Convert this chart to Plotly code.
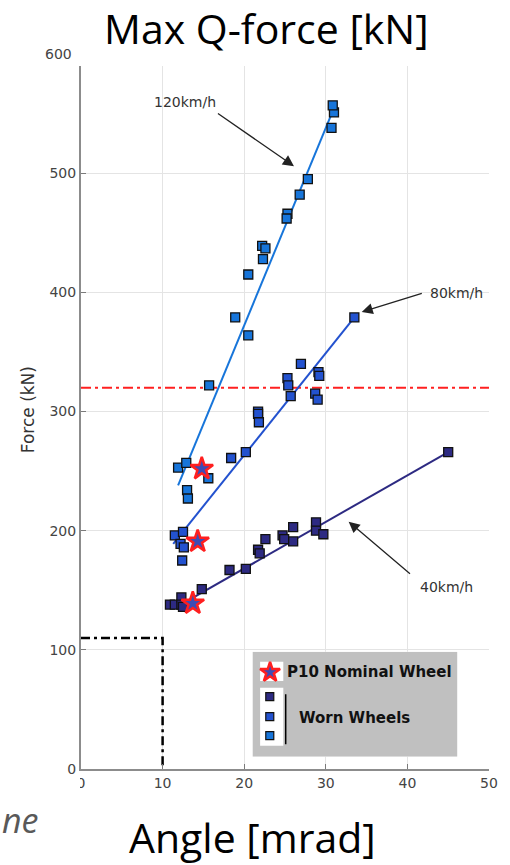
import plotly.graph_objects as go

# ---- measured values: angle [mrad] vs. max Q-force [kN] ----
angle_40 = [10.9, 11.5, 12.3, 12.3, 12.5, 14.8, 18.2, 20.2, 21.7, 21.9,
            22.6, 24.7, 24.9, 26.0, 26.0, 28.8, 28.8, 29.7, 45.0]
force_40 = [138, 138, 144, 138, 136, 151, 167, 168, 184, 181,
            193, 196, 193, 203, 191, 207, 200, 197, 266]

angle_80 = [11.5, 12.5, 12.2, 12.6, 12.4, 18.4, 20.2, 21.7, 21.7, 21.8,
            25.3, 25.4, 25.7, 26.95, 29.1, 29.2, 28.7, 29.0, 33.5]
force_80 = [196, 199, 189, 186, 175, 261, 266, 300, 298, 291,
            328, 322, 313, 340, 333, 330, 315, 310, 379]

angle_120 = [11.9, 12.9, 13.0, 13.1, 15.6, 15.7, 18.9, 20.5, 20.5, 22.2,
             22.6, 22.3, 25.3, 25.2, 26.8, 27.8, 30.7, 31.0, 30.85]
force_120 = [253, 257, 234, 227, 244, 322, 379, 364, 415, 439,
             437, 428, 466, 462, 482, 495, 538, 551, 557]

# nominal P10 wheel, one point per speed (40, 80, 120 km/h)
nominal_angle = [13.7, 14.3, 14.8]
nominal_force = [139, 191, 252]

# linear trend lines (start/end points)
fit_40_angle, fit_40_force = [12.5, 45.0], [139, 266]
fit_80_angle, fit_80_force = [11.3, 33.5], [189, 379]
fit_120_angle, fit_120_force = [11.9, 30.9], [238, 553]

force_limit = 320            # red dash-dot limit
box_angle = [0, 10, 10]      # black dash-dot boundary
box_force = [110, 110, 0]

x_ticks = [0, 10, 20, 30, 40, 50]
y_ticks = [0, 100, 200, 300, 400, 500]

# ---- styling ----
C40, C80, C120 = "#2d2a82", "#2352cf", "#1775da"
STAR_FILL, STAR_EDGE = "#3d4cb5", "#ff1f1f"
TICK_FONT = dict(family="DejaVu Sans", size=14, color="#444444")
NOTE_FONT = dict(family="DejaVu Sans", size=14, color="#333333")

# plot area in pixels
L, R, T, B = 81, 491, 66, 769
W, H = 510, 865
Y_TOP = 590


def px_x(p):
    return (p - L) / (R - L)


def px_y(p):
    return (B - p) / (B - T)


fig = go.Figure()

# boundary and limit lines
fig.add_trace(go.Scatter(x=box_angle, y=box_force, mode="lines",
                         line=dict(color="black", width=2.5, dash="9px,4px,3px,4px"),
                         hoverinfo="skip"))
fig.add_trace(go.Scatter(x=[0, 50], y=[force_limit, force_limit], mode="lines",
                         line=dict(color="#ff2020", width=2, dash="10px,4px,3px,4px"),
                         hoverinfo="skip"))

# trend lines
for xs, ys, c in [(fit_40_angle, fit_40_force, C40),
                  (fit_80_angle, fit_80_force, C80),
                  (fit_120_angle, fit_120_force, C120)]:
    fig.add_trace(go.Scatter(x=xs, y=ys, mode="lines", line=dict(color=c, width=2)))

# worn wheel measurements
for xs, ys, c in [(angle_40, force_40, C40),
                  (angle_80, force_80, C80),
                  (angle_120, force_120, C120)]:
    fig.add_trace(go.Scatter(x=xs, y=ys, mode="markers",
                             marker=dict(symbol="square", size=9, color=c,
                                         line=dict(color="#111111", width=1.3))))

# nominal wheel
fig.add_trace(go.Scatter(x=nominal_angle, y=nominal_force, mode="markers",
                         marker=dict(symbol="star", size=17, color=STAR_FILL,
                                     line=dict(color=STAR_EDGE, width=2.5))))

# ---- legend box drawn on its own small axis (pixel units inside the box) ----
LEG_X0, LEG_X1, LEG_Y0, LEG_Y1 = 253.3, 459.3, 651.7, 756.7
leg_w, leg_h = LEG_X1 - LEG_X0, LEG_Y1 - LEG_Y0

fig.add_trace(go.Scatter(x=[17.7], y=[20.6], mode="markers", xaxis="x2", yaxis="y2",
                         marker=dict(symbol="star", size=15, color=STAR_FILL,
                                     line=dict(color=STAR_EDGE, width=2.5))))
fig.add_trace(go.Scatter(x=[17.4, 17.4, 17.4], y=[45, 65, 84], mode="markers",
                         xaxis="x2", yaxis="y2",
                         marker=dict(symbol="square", size=8, color=[C40, C80, C120],
                                     line=dict(color="#111111", width=1.2))))

shapes = [
    dict(type="rect", xref="x2", yref="y2", x0=0, x1=leg_w, y0=0, y1=leg_h,
         fillcolor="#c0c0c0", line=dict(width=0), layer="below"),
    dict(type="rect", xref="x2", yref="y2", x0=7.7, x1=31, y0=10, y1=29.3,
         fillcolor="white", line=dict(width=0), layer="below"),
    dict(type="rect", xref="x2", yref="y2", x0=7.7, x1=31, y0=36, y1=94,
         fillcolor="white", line=dict(width=0), layer="below"),
    dict(type="line", xref="x2", yref="y2", x0=33.4, x1=33.4, y0=42.6, y1=92.6,
         line=dict(color="black", width=1.5)),
]

annotations = [
    dict(x=32.7, y=20.6, xref="x2", yref="y2", text="<b>P10 Nominal Wheel</b>",
         showarrow=False, xanchor="left", yanchor="middle",
         font=dict(family="DejaVu Sans", size=15, color="#111111")),
    dict(x=44.4, y=66.3, xref="x2", yref="y2", text="<b>Worn Wheels</b>",
         showarrow=False, xanchor="left", yanchor="middle",
         font=dict(family="DejaVu Sans", size=15, color="#111111")),
    # speed labels and arrows
    dict(x=12.7, y=559.8, xref="x", yref="y", text="120km/h", showarrow=False,
         xanchor="center", yanchor="middle", font=NOTE_FONT),
    dict(x=26.1, y=505.9, ax=16.6, ay=551, xref="x", yref="y", axref="x", ayref="y",
         text="", showarrow=True, arrowhead=2, arrowsize=1.7, arrowwidth=1.3,
         arrowcolor="#222222", standoff=0),
    dict(x=46.0, y=399.6, xref="x", yref="y", text="80km/h", showarrow=False,
         xanchor="center", yanchor="middle", font=NOTE_FONT),
    dict(x=34.4, y=383.6, ax=41.95, ay=399.6, xref="x", yref="y", axref="x", ayref="y",
         text="", showarrow=True, arrowhead=2, arrowsize=1.7, arrowwidth=1.3,
         arrowcolor="#222222", standoff=0),
    dict(x=44.8, y=153, xref="x", yref="y", text="40km/h", showarrow=False,
         xanchor="center", yanchor="middle", font=NOTE_FONT),
    dict(x=32.8, y=207.5, ax=40.5, ay=162.8, xref="x", yref="y", axref="x", ayref="y",
         text="", showarrow=True, arrowhead=2, arrowsize=1.7, arrowwidth=1.3,
         arrowcolor="#222222", standoff=0),
    # top force label above the clipped plot area
    dict(x=0, y=600 / Y_TOP, xref="paper", yref="paper", text="600", showarrow=False,
         xanchor="right", yanchor="middle", xshift=-7, font=TICK_FONT),
    # white patch masking the left half of the "0" angle label
    dict(x=px_x(80.3), y=px_y(786), xref="paper", yref="paper", text=" ",
         showarrow=False, xanchor="right", yanchor="middle", width=18, height=22,
         bgcolor="white", borderpad=0, borderwidth=0),
    # axis title
    dict(x=px_x(28), y=px_y(410), xref="paper", yref="paper", text="Force (kN)",
         textangle=-90, showarrow=False, xanchor="center", yanchor="middle",
         font=dict(family="DejaVu Sans", size=17, color="#333333")),
    # headings
    dict(x=px_x(267), y=px_y(28), xref="paper", yref="paper", text="Max Q-force [kN]",
         showarrow=False, xanchor="center", yanchor="middle",
         font=dict(family="Open Sans", size=41, color="black")),
    dict(x=px_x(253), y=px_y(837), xref="paper", yref="paper", text="Angle [mrad]",
         showarrow=False, xanchor="center", yanchor="middle",
         font=dict(family="Open Sans", size=41, color="black")),
    dict(x=px_x(0), y=px_y(820), xref="paper", yref="paper", text="<i>ne</i>",
         showarrow=False, xanchor="left", yanchor="middle",
         font=dict(family="Open Sans", size=34, color="#595959")),
]

axis_common = dict(showgrid=True, gridcolor="#e4e4e4", gridwidth=1, zeroline=False,
                   showline=True, linecolor="#8c8c8c", linewidth=2,
                   ticks="inside", ticklen=5, tickcolor="#7a7a7a", tickwidth=1,
                   tickfont=TICK_FONT)

fig.update_layout(
    width=W, height=H,
    margin=dict(l=L, r=W - R, t=T, b=H - B),
    paper_bgcolor="white", plot_bgcolor="white",
    showlegend=False,
    xaxis=dict(range=[0, 50], tickvals=x_ticks, domain=[0, 1], **axis_common),
    yaxis=dict(range=[0, Y_TOP], tickvals=y_ticks, domain=[0, 1], **axis_common),
    xaxis2=dict(domain=[px_x(LEG_X0), px_x(LEG_X1)], range=[0, leg_w],
                anchor="y2", visible=False, fixedrange=True),
    yaxis2=dict(domain=[px_y(LEG_Y1), px_y(LEG_Y0)], range=[leg_h, 0],
                anchor="x2", visible=False, fixedrange=True),
    shapes=shapes,
    annotations=annotations,
)

fig.write_html("out.html")
